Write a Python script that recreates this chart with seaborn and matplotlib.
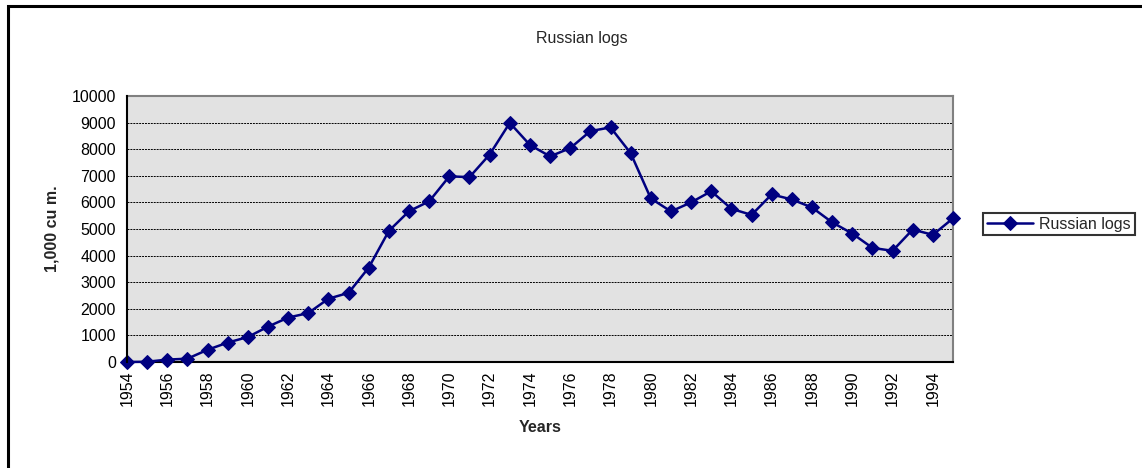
import matplotlib
matplotlib.use("Agg")
import matplotlib.pyplot as plt
import seaborn as sns
import pandas as pd
from matplotlib.patches import Rectangle

years = list(range(1954, 1996))
values = [0, 10, 90, 125, 460, 730, 940, 1330, 1670, 1840, 2380, 2600, 3550,
          4930, 5670, 6040, 6980, 6950, 7800, 8990, 8160, 7730, 8040, 8680,
          8820, 7850, 6150, 5660, 6000, 6420, 5760, 5530, 6300, 6110, 5810,
          5250, 4830, 4290, 4180, 4980, 4780, 5400]
series_name = "Russian logs"
title = "Russian logs"
xlabel = "Years"
ylabel = "1,000 cu m."
yticks = list(range(0, 10001, 1000))

df = pd.DataFrame({"Year": years, "Value": values, "Series": series_name})

sns.set_style("white")
plt.rcParams["font.family"] = ["Liberation Sans", "DejaVu Sans"]
FS = 11.5

fig = plt.figure(figsize=(11.42, 4.68), dpi=100)
ax = fig.add_axes([127 / 1142, 1 - 362 / 468, (953 - 127) / 1142, (362 - 96) / 468])
ax.set_facecolor("#e2e2e2")

sns.lineplot(data=df, x="Year", y="Value", hue="Series", palette=["#000080"],
             marker="D", markersize=7.5, markeredgecolor="#000080",
             linewidth=1.8, ax=ax, clip_on=False, zorder=5)

ax.set_xlim(1954, 1995)
ax.set_ylim(0, 10000)
ax.set_yticks(yticks)
ax.set_yticklabels([str(v) for v in yticks], fontsize=FS)
ax.set_xticks(years)
ax.set_xticklabels([str(y) if (y - 1954) % 2 == 0 else "" for y in years],
                   rotation=90, fontsize=FS)
ax.tick_params(axis="x", direction="inout", length=8, width=1.2, pad=2, colors="black")
ax.tick_params(axis="y", direction="out", length=5, width=1.2, pad=3, colors="black")
ax.yaxis.grid(True, color="black", linestyle=(0, (2, 1)), linewidth=0.7)
ax.xaxis.grid(False)
ax.set_axisbelow(True)

for s in ["top", "right"]:
    ax.spines[s].set_color("#808080")
    ax.spines[s].set_linewidth(1.5)
for s in ["left", "bottom"]:
    ax.spines[s].set_color("black")
    ax.spines[s].set_linewidth(1.5)
ax.spines["left"].set_zorder(6)

ax.set_xlabel(xlabel, fontsize=FS, fontweight="bold")
ax.set_ylabel(ylabel, fontsize=FS, fontweight="bold")
ax.xaxis.set_label_coords((540 - 127) / 826, (362 - 427) / 266)
ax.yaxis.set_label_coords((52 - 127) / 826, 0.5)
ax.xaxis.label.set_va("center")
ax.yaxis.label.set_va("center")

fig.text(582 / 1142, 1 - 39 / 468, title, ha="center", va="center", fontsize=FS)

leg = ax.legend(loc="center left", bbox_to_anchor=(983 / 1142, 1 - 224 / 468),
                bbox_transform=fig.transFigure, frameon=True, fancybox=False,
                fontsize=FS, handlelength=2.9, borderpad=0.25, handletextpad=0.35,
                borderaxespad=0)
leg.get_frame().set_edgecolor("black")
leg.get_frame().set_linewidth(1.5)
leg.set_title(None)

border = Rectangle((8 / 1142, -0.05), 1.2, 1 - 6 / 468 + 0.05, transform=fig.transFigure,
                   fill=False, edgecolor="black", linewidth=2.2, clip_on=False)
fig.patches.append(border)

fig.savefig("out.png", dpi=100)
